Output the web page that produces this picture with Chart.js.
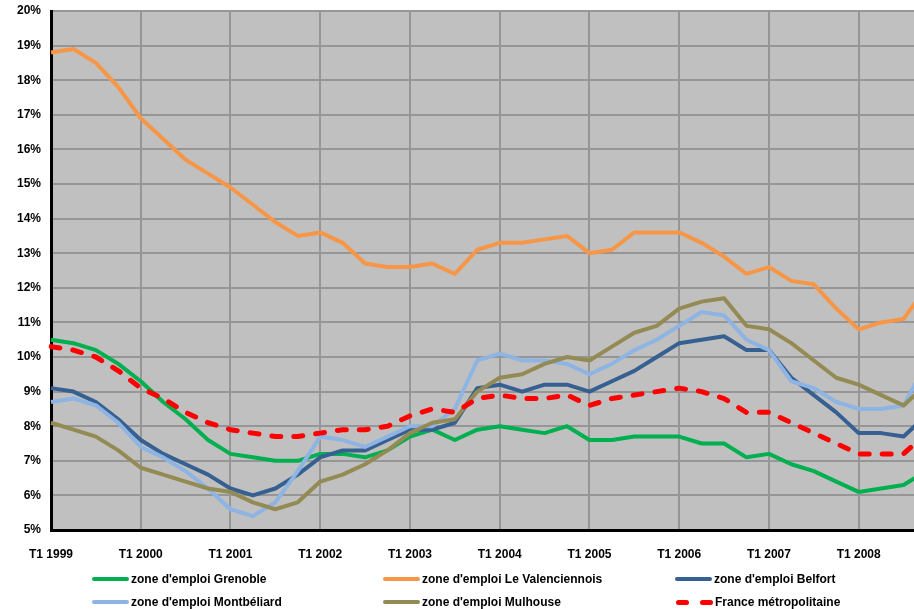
<!DOCTYPE html>
<html>
<head>
<meta charset="utf-8">
<script src="https://cdn.jsdelivr.net/npm/chart.js@4.4.1/dist/chart.umd.min.js"></script>
<style>
  html, body { margin: 0; padding: 0; background: #fff; width: 914px; height: 609px; overflow: hidden; }
  #wrap { position: absolute; left: 0; top: 0; width: 926px; height: 609px; }
  .leg { position: absolute; height: 16px; display: flex; align-items: center; white-space: nowrap;
         font: bold 12px "Liberation Sans", Arial, sans-serif; color: #000; }
  .leg .s { display: inline-block; width: 37px; height: 4px; margin-right: 2px; border-radius: 2px; }
  .leg .d { display: inline-block; width: 13px; height: 5px; border-radius: 3px; background: #ff0000; }
</style>
</head>
<body>
<div id="wrap"><canvas id="grafica" width="926" height="609"></canvas></div>
<div id="legende"></div>
<script>
// trimestres T1 1999 .. T4 2008
var annees = [1999, 2000, 2001, 2002, 2003, 2004, 2005, 2006, 2007, 2008];

var grenoble = [10.5, 10.4, 10.2, 9.8, 9.3, 8.7, 8.2, 7.6, 7.2, 7.1, 7.0, 7.0,
  7.2, 7.2, 7.1, 7.3, 7.7, 7.9, 7.6, 7.9, 8.0, 7.9, 7.8, 8.0,
  7.6, 7.6, 7.7, 7.7, 7.7, 7.5, 7.5, 7.1, 7.2, 6.9, 6.7, 6.4,
  6.1, 6.2, 6.3, 6.7];
var valenciennois = [18.8, 18.9, 18.5, 17.8, 16.9, 16.3, 15.7, 15.3, 14.9, 14.4, 13.9, 13.5,
  13.6, 13.3, 12.7, 12.6, 12.6, 12.7, 12.4, 13.1, 13.3, 13.3, 13.4, 13.5,
  13.0, 13.1, 13.6, 13.6, 13.6, 13.3, 12.9, 12.4, 12.6, 12.2, 12.1, 11.4,
  10.8, 11.0, 11.1, 12.0];
var belfort = [9.1, 9.0, 8.7, 8.2, 7.6, 7.2, 6.9, 6.6, 6.2, 6.0, 6.2, 6.6,
  7.1, 7.3, 7.3, 7.6, 7.9, 7.9, 8.1, 9.1, 9.2, 9.0, 9.2, 9.2,
  9.0, 9.3, 9.6, 10.0, 10.4, 10.5, 10.6, 10.2, 10.2, 9.4, 8.9, 8.4,
  7.8, 7.8, 7.7, 8.3];
var montbeliard = [8.7, 8.8, 8.6, 8.1, 7.4, 7.1, 6.7, 6.2, 5.6, 5.4, 5.8, 6.7,
  7.7, 7.6, 7.4, 7.7, 8.0, 8.0, 8.5, 9.9, 10.1, 9.9, 9.9, 9.8,
  9.5, 9.8, 10.2, 10.5, 10.9, 11.3, 11.2, 10.5, 10.2, 9.3, 9.1, 8.7,
  8.5, 8.5, 8.6, 9.8];
var mulhouse = [8.1, 7.9, 7.7, 7.3, 6.8, 6.6, 6.4, 6.2, 6.1, 5.8, 5.6, 5.8,
  6.4, 6.6, 6.9, 7.3, 7.8, 8.1, 8.2, 9.0, 9.4, 9.5, 9.8, 10.0,
  9.9, 10.3, 10.7, 10.9, 11.4, 11.6, 11.7, 10.9, 10.8, 10.4, 9.9, 9.4,
  9.2, 8.9, 8.6, 9.2];
var france = [10.3, 10.2, 10.0, 9.6, 9.1, 8.8, 8.4, 8.1, 7.9, 7.8, 7.7, 7.7,
  7.8, 7.9, 7.9, 8.0, 8.3, 8.5, 8.4, 8.8, 8.9, 8.8, 8.8, 8.9,
  8.6, 8.8, 8.9, 9.0, 9.1, 9.0, 8.8, 8.4, 8.4, 8.1, 7.8, 7.5,
  7.2, 7.2, 7.2, 7.8];

var labels = [];
for (var i = 0; i < annees.length; i++) {
  for (var q = 1; q <= 4; q++) {
    labels.push(q == 1 ? 'T1 ' + annees[i] : '');
  }
}

var police = '"Liberation Sans", Arial, sans-serif';
var grille = '#969696';

var fondGris = {
  id: 'fondGris',
  beforeDraw: function(chart) {
    var a = chart.chartArea;
    var ctx = chart.ctx;
    ctx.save();
    ctx.fillStyle = '#c0c0c0';
    ctx.fillRect(a.left, a.top, a.right - a.left, a.bottom - a.top);
    ctx.restore();
  }
};

function serie(nom, valeurs, couleur, ordre) {
  return {
    label: nom,
    data: valeurs,
    borderColor: couleur,
    backgroundColor: couleur,
    borderWidth: 4,
    pointRadius: 0,
    tension: 0,
    borderJoinStyle: 'round',
    fill: false,
    order: ordre
  };
}

var fr = serie('France métropolitaine', france, '#ff0000', 0);
fr.borderWidth = 5;
fr.borderDash = [9, 13];
fr.borderCapStyle = 'round';

var ctx = document.getElementById('grafica').getContext('2d');
var chart = new Chart(ctx, {
  type: 'line',
  data: {
    labels: labels,
    datasets: [
      serie("zone d'emploi Grenoble", grenoble, '#00b050', 5),
      serie("zone d'emploi Le Valenciennois", valenciennois, '#f79646', 4),
      serie("zone d'emploi Belfort", belfort, '#376092', 3),
      serie("zone d'emploi Montbéliard", montbeliard, '#8db4e2', 2),
      serie("zone d'emploi Mulhouse", mulhouse, '#948a54', 1),
      fr
    ]
  },
  options: {
    responsive: false,
    animation: false,
    devicePixelRatio: 1,
    layout: { padding: { top: 11, bottom: 49, left: 0, right: 0 } },
    plugins: { legend: { display: false }, tooltip: { enabled: false } },
    scales: {
      x: {
        grid: {
          color: function(c) { return labels[c.index] ? grille : 'rgba(0,0,0,0)'; },
          lineWidth: 2,
          drawTicks: false
        },
        border: { color: '#000', width: 3 },
        ticks: { autoSkip: false, maxRotation: 0, padding: 17, color: '#000',
                 font: { family: police, size: 12, weight: 'bold' } },
        afterFit: function(s) { s.height = 30; s.paddingLeft = 0; s.paddingRight = 0; }
      },
      y: {
        min: 5,
        max: 20,
        grid: { color: grille, lineWidth: 2, drawTicks: false },
        border: { color: '#000', width: 3 },
        ticks: { stepSize: 1, padding: 10, color: '#000',
                 font: { family: police, size: 12, weight: 'bold' },
                 callback: function(v) { return v + '%'; } },
        afterFit: function(s) { s.width = 51; s.paddingTop = 0; s.paddingBottom = 0; }
      }
    }
  },
  plugins: [fondGris]
});

// legende en grille comme dans l'original
var colX = [92, 383, 675];
var rowY = [571, 594];
var leg = document.getElementById('legende');
var ds = chart.data.datasets;
for (var k = 0; k < ds.length; k++) {
  var el = document.createElement('div');
  el.className = 'leg';
  el.style.left = colX[k % 3] + 'px';
  el.style.top = rowY[Math.floor(k / 3)] + 'px';
  if (ds[k].borderDash) {
    el.innerHTML = '<span class="d" style="margin-left:1px"></span><span class="d" style="margin-left:11px;margin-right:2px"></span>';
  } else {
    el.innerHTML = '<span class="s" style="background:' + ds[k].borderColor + '"></span>';
  }
  el.appendChild(document.createTextNode(ds[k].label));
  leg.appendChild(el);
}
</script>
</body>
</html>
